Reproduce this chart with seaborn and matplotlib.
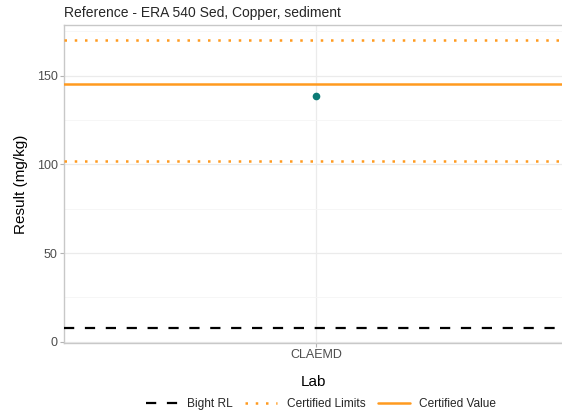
import matplotlib
matplotlib.use('Agg')
import matplotlib.pyplot as plt
from matplotlib.lines import Line2D
from matplotlib.ticker import MultipleLocator
import pandas as pd
import seaborn as sns

# data
labs = ['CLAEMD']
results = [138.3]
certified_value = 145
certified_limits = [102, 170]
bight_rl = 7.5

sns.set_theme(style='white')
plt.rcParams['font.family'] = ['Liberation Sans', 'DejaVu Sans']

df = pd.DataFrame({'Lab': labs, 'Result': results})

fig = plt.figure(figsize=(5.62, 4.15), dpi=100)
ax = fig.add_axes([64 / 562, 1 - 343 / 415, 1 - 64 / 562, 318 / 415])

orange = '#ff9a1f'
dashed = (0, (4.6, 4.8))
dotted = (0, (1.0, 3.1))
ax.axhline(bight_rl, color='black', lw=1.6, ls=dashed, zorder=3)
for lim in certified_limits:
    ax.axhline(lim, color=orange, lw=1.8, ls=dotted, dash_capstyle='butt', zorder=3)
ax.axhline(certified_value, color=orange, lw=1.8, zorder=3)

sns.stripplot(data=df, x='Lab', y='Result', color='#0b7a75', size=5.5, jitter=False, ax=ax, zorder=4)

ax.set_ylim(-0.7, 178.5)
ax.set_xlim(-0.6, 0.6 * (562 - 316) / (316 - 64))
ax.yaxis.set_major_locator(MultipleLocator(50))
ax.yaxis.set_minor_locator(MultipleLocator(25))
ax.grid(True, which='major', color='#ebebeb', lw=0.9)
ax.grid(True, which='minor', axis='y', color='#f5f5f5', lw=0.6)
ax.set_axisbelow(True)

for side, sp in ax.spines.items():
    sp.set_color('#c8c8c8')
    sp.set_linewidth(1.0)
ax.spines['right'].set_visible(False)

ax.tick_params(axis='both', which='major', length=3, width=0.8, color='#b3b3b3',
               labelsize=9, labelcolor='#4d4d4d', pad=1.5, left=True, bottom=True)
ax.tick_params(axis='y', which='minor', length=0)

ax.set_xlabel('Lab', fontsize=11, color='black', labelpad=10)
ax.set_ylabel('Result (mg/kg)', fontsize=11, color='black', labelpad=6)
ax.set_title('Reference - ERA 540 Sed, Copper, sediment', loc='left', fontsize=10, pad=6)

handles = [
    Line2D([], [], color='black', lw=1.6, ls=dashed),
    Line2D([], [], color=orange, lw=1.8, ls=dotted),
    Line2D([], [], color=orange, lw=1.8),
]
fig.legend(handles, ['Bight RL', 'Certified Limits', 'Certified Value'],
           loc='center', bbox_to_anchor=(321 / 562, 1 - 404 / 415), ncol=3,
           frameon=False, fontsize=8.6, handlelength=2.7, columnspacing=1.0, handletextpad=0.8)

fig.savefig('out.png', dpi=100)
